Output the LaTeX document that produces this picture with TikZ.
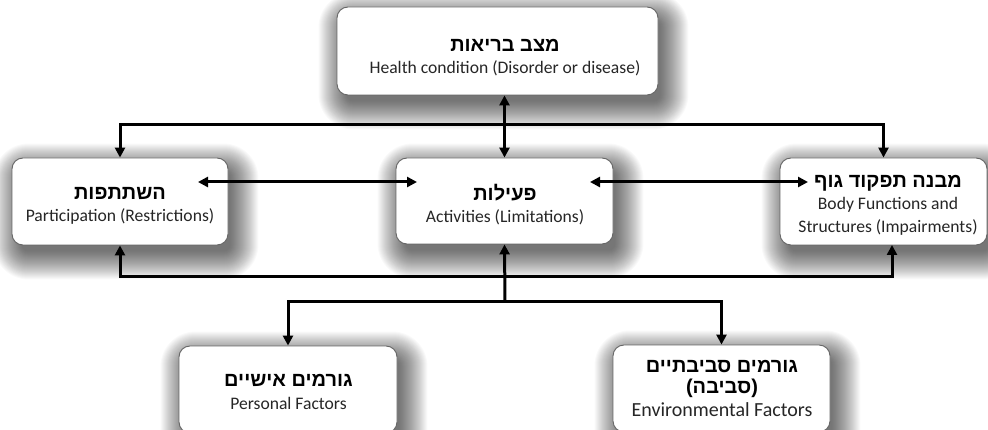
\documentclass[tikz,border=0pt]{standalone}
\usepackage{fontspec}
\TeXXeTstate=1
\newfontfamily\hebfont[Script=Hebrew]{Liberation Sans}
\newfontfamily\engfont{Carlito}
\usetikzlibrary{arrows.meta}
\pgfdeclarelayer{bg}
\pgfsetlayers{bg,main}
\begin{document}
\begin{tikzpicture}[x=1pt,y=-1pt,
  box/.style={draw=black!60, line width=0.9pt, rounded corners=11pt, fill=white},
  shadowstep/.style={fill=black, fill opacity=0.022},
  heb/.style={font=\hebfont\bfseries\fontsize{20}{24}\selectfont, inner sep=0pt},
  eng/.style={font=\engfont\fontsize{17.6}{21}\selectfont, text=black!85, inner sep=0pt},
  engbig/.style={font=\engfont\fontsize{20}{24}\selectfont, text=black!85, inner sep=0pt},
  tip/.tip={Triangle[length=10pt,width=10pt]},
  conn/.style={line width=3pt, -tip},
  conn2/.style={line width=3pt, tip-tip}]
\useasboundingbox (0,0) rectangle (988,430);
% boxes
\node[box, minimum width=321pt, minimum height=88pt] (hc) at (497.5,51) {};
\node[box, minimum width=216pt, minimum height=87pt] (part) at (120,201.5) {};
\node[box, minimum width=217pt, minimum height=86pt] (act) at (504.5,201) {};
\node[box, minimum width=207pt, minimum height=87pt] (body) at (883.5,201.5) {};
\node[box, minimum width=218pt, minimum height=87pt] (pers) at (288,389.5) {};
\node[box, minimum width=217pt, minimum height=87pt] (env) at (721.5,388.5) {};
% soft shadows
\begin{pgfonlayer}{bg}
\fill[white] (0,0) rectangle (988,430);
\foreach \n in {hc,part,act,body,pers,env}{
  \foreach \k [evaluate=\k as \r using 24-\k, evaluate=\k as \rc using 35-\k] in {0,...,28}{
    \fill[shadowstep, rounded corners=\rc pt]
      ([xshift=6pt-\r pt, yshift=-10pt-\r pt]\n.south west) rectangle
      ([xshift=6pt+\r pt, yshift=-10pt+\r pt]\n.north east);
  }
}
\end{pgfonlayer}
% texts
\node[heb] (hcH) at (505,45) {\beginR מצב בריאות\endR};
\node[eng] (hcE) at (505,68) {Health condition (Disorder or disease)};
\node[heb] (partH) at (120,193) {\beginR השתתפות\endR};
\node[eng] (partE) at (120,216) {Participation (Restrictions)};
\node[heb] (actH) at (505,193) {\beginR פעילות\endR};
\node[eng] (actE) at (505,217) {Activities (Limitations)};
\node[heb] (bodyH) at (888,183) {\beginR מבנה תפקוד גוף\endR};
\node[eng] (bodyE1) at (888,205) {Body Functions and};
\node[eng] (bodyE2) at (888,227) {Structures (Impairments)};
\node[heb] (persH) at (288.5,380) {\beginR גורמים אישיים\endR};
\node[eng] (persE) at (288.5,403) {Personal Factors};
\node[heb] (envH1) at (722,367) {\beginR גורמים סביבתיים\endR};
\node[heb] (envH2) at (722,388) {\beginR (סביבה)\endR};
\node[engbig] (envE) at (722,410) {Environmental Factors};
% junction coordinates
\coordinate (jt) at (505,125);
\coordinate (jb) at (505,277);
\coordinate (jf) at (505,302);
\coordinate (bodyB) at (892,245);
\coordinate (pA) at (198,182);
\coordinate (aL) at (417,182);
\coordinate (aR) at (590,182);
\coordinate (bL) at (808,182);
% connectors
\draw[conn2] (act.north |- hc.south) -- (act.north);
\draw[conn] (jt) -| (part.north);
\draw[conn] (jt) -| (body.north);
\draw[conn2] (pA) -- (aL);
\draw[conn2] (aR) -- (bL);
\draw[conn] (jf) -- (act.south);
\draw[conn] (jb) -| (part.south);
\draw[conn] (jb) -| (bodyB);
\draw[conn] (jf) -| (pers.north);
\draw[conn] (jf) -| (env.north);
\end{tikzpicture}
\end{document}
